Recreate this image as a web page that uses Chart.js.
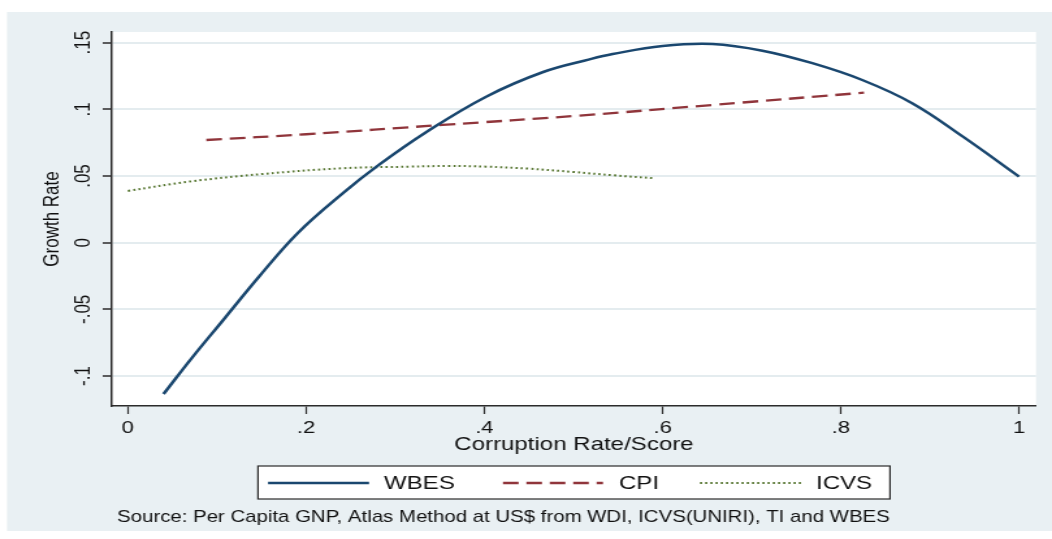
<!DOCTYPE html>
<html>
<head>
<meta charset="utf-8">
<script src="https://cdn.jsdelivr.net/npm/chart.js@4/dist/chart.umd.min.js"></script>
<style>
  html, body { margin: 0; padding: 0; background: #fff; }
  /* the reference is a horizontally stretched Stata export, so the chart is drawn narrow and stretched */
  #wrap { position: absolute; left: 0; top: 0; width: 809px; height: 539px; transform: scaleX(1.30037); transform-origin: 0 0; }
</style>
</head>
<body>
<div id="wrap"><canvas id="chart"></canvas></div>
<script>
const WBES_X = [0.04, 0.073, 0.107, 0.148, 0.191, 0.241, 0.282, 0.335, 0.402, 0.466, 0.518, 0.544, 0.60, 0.656, 0.712, 0.768, 0.824, 0.88, 0.937, 1.0];
const WBES_Y = [-0.1135, -0.0855, -0.058, -0.0248, 0.0075, 0.037, 0.0585, 0.083, 0.1095, 0.128, 0.1375, 0.1415, 0.1475, 0.149, 0.144, 0.1346, 0.122, 0.1046, 0.0795, 0.0495];

const CPI_X = [0.088, 0.2, 0.353, 0.507, 0.656, 0.826];
const CPI_Y = [0.077, 0.0813, 0.0883, 0.0953, 0.1033, 0.1125];

const ICVS_X = [0, 0.069, 0.151, 0.241, 0.316, 0.36, 0.402, 0.45, 0.50, 0.545, 0.591];
const ICVS_Y = [0.0388, 0.0458, 0.0515, 0.0558, 0.057, 0.0575, 0.057, 0.0555, 0.053, 0.0505, 0.0483];

const X_TICKS = [0, 0.2, 0.4, 0.6, 0.8, 1];
const X_TICK_LABELS = ["0", ".2", ".4", ".6", ".8", "1"];
const Y_TICKS = [-0.1, -0.05, 0, 0.05, 0.1, 0.15];
const Y_TICK_LABELS = ["-.1", "-.05", "0", ".05", ".1", ".15"];

const SERIES_NAMES = ["WBES", "CPI", "ICVS"];
const SOURCE_NOTE = "Source: Per Capita GNP, Atlas Method at US$ from WDI, ICVS(UNIRI), TI and WBES";

const COLORS = {
  wbes: "#1a476f",
  cpi: "#90353b",
  icvs: "#55752f",
  panel: "#e9f0f3",
  grid: "#e4ecef",
  axis: "#2b2b2b",
  text: "#111",
};
const FONT = "'Liberation Sans', Arial, sans-serif";

const toPoints = (xs, ys) => xs.map((x, i) => ({ x, y: ys[i] }));

const backgroundPlugin = {
  id: "panel",
  beforeDraw(chart) {
    const { ctx, chartArea: a } = chart;
    ctx.save();
    ctx.fillStyle = "#fff";
    ctx.fillRect(0, 0, chart.width, chart.height);
    ctx.fillStyle = COLORS.panel;
    ctx.fillRect(5.4, 12, chart.width - 5.4, 519);
    ctx.fillStyle = "#fff";
    ctx.fillRect(a.left, a.top, a.right - a.left, a.bottom - a.top);
    ctx.restore();
  },
};

// Stata-style boxed legend plus the source note under it
const legendPlugin = {
  id: "boxLegend",
  afterDraw(chart) {
    const { ctx } = chart;
    const items = [
      { x0: 206.1, x1: 283.8, tx: 295.3 },
      { x0: 386.8, x1: 463.7, tx: 476 },
      { x0: 538.3, x1: 616, tx: 627.5 },
    ];
    ctx.save();
    ctx.fillStyle = "#fff";
    ctx.fillRect(198.4, 466, 486, 33);
    ctx.strokeStyle = COLORS.axis;
    ctx.lineWidth = 1.2;
    ctx.strokeRect(198.4, 466, 486, 33);

    chart.data.datasets.forEach((ds, i) => {
      const it = items[i];
      ctx.beginPath();
      ctx.setLineDash(ds.borderDash || []);
      ctx.strokeStyle = ds.borderColor;
      ctx.lineWidth = ds.borderWidth;
      ctx.moveTo(it.x0, 483);
      ctx.lineTo(it.x1, 483);
      ctx.stroke();
      ctx.setLineDash([]);
      ctx.fillStyle = COLORS.text;
      ctx.font = `18.5px ${FONT}`;
      ctx.textBaseline = "middle";
      ctx.textAlign = "left";
      ctx.fillText(ds.label, it.tx, 483.5);
    });

    ctx.font = `15.7px ${FONT}`;
    ctx.textBaseline = "alphabetic";
    ctx.fillStyle = COLORS.text;
    ctx.fillText(SOURCE_NOTE, 90, 521.5);
    ctx.restore();
  },
};

new Chart(document.getElementById("chart"), {
  type: "scatter",
  data: {
    datasets: [
      { label: SERIES_NAMES[0], data: toPoints(WBES_X, WBES_Y), borderColor: COLORS.wbes, borderWidth: 2.5 },
      { label: SERIES_NAMES[1], data: toPoints(CPI_X, CPI_Y), borderColor: COLORS.cpi, borderWidth: 2.3, borderDash: [12, 6] },
      { label: SERIES_NAMES[2], data: toPoints(ICVS_X, ICVS_Y), borderColor: COLORS.icvs, borderWidth: 2, borderDash: [1.6, 2.4] },
    ].map((ds) => ({ ...ds, showLine: true, pointRadius: 0, tension: 0.4, fill: false })),
  },
  plugins: [backgroundPlugin, legendPlugin],
  options: {
    responsive: true,
    maintainAspectRatio: false,
    animation: false,
    layout: { padding: { left: 0, right: 12.3, top: 32, bottom: 83 } },
    plugins: { legend: { display: false }, tooltip: { enabled: false } },
    scales: {
      x: {
        type: "linear",
        min: -0.018,
        max: 1.019,
        afterBuildTicks: (scale) => { scale.ticks = X_TICKS.map((value) => ({ value })); },
        afterFit: (scale) => { scale.height = 50; },
        ticks: {
          color: COLORS.text,
          font: { family: FONT, size: 17 },
          padding: 4,
          maxRotation: 0,
          callback: (value, index) => X_TICK_LABELS[index],
        },
        grid: { drawOnChartArea: false, drawTicks: true, tickLength: 8, tickColor: COLORS.axis, tickWidth: 1.2 },
        border: { display: true, color: COLORS.axis, width: 1.5 },
        title: { display: true, text: "Corruption Rate/Score", color: COLORS.text, font: { family: FONT, size: 18.5 }, padding: { top: 0, bottom: 0 } },
      },
      y: {
        type: "linear",
        min: -0.1225,
        max: 0.158,
        afterBuildTicks: (scale) => { scale.ticks = Y_TICKS.map((value) => ({ value })); },
        afterFit: (scale) => { scale.width = 86; },
        ticks: {
          color: COLORS.text,
          font: { family: FONT, size: 17 },
          padding: 0,
          minRotation: 90,
          maxRotation: 90,
          crossAlign: "center",
          callback: (value, index) => Y_TICK_LABELS[index],
        },
        grid: { color: COLORS.grid, lineWidth: 2, drawTicks: true, tickLength: 7, tickColor: COLORS.axis, tickWidth: 1.5 },
        border: { display: true, color: COLORS.axis, width: 1.5 },
        title: { display: true, text: "Growth Rate", color: COLORS.text, font: { family: FONT, size: 17 }, padding: { top: 30, bottom: 0 } },
      },
    },
  },
});
</script>
</body>
</html>
